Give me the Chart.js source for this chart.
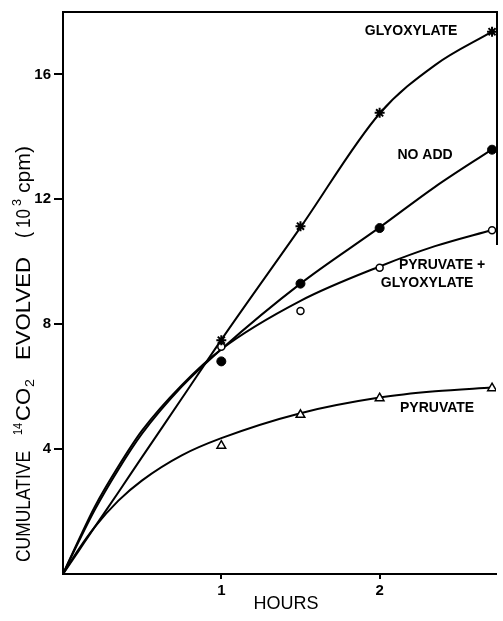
<!DOCTYPE html>
<html>
<head>
<meta charset="utf-8">
<script src="https://cdn.jsdelivr.net/npm/chart.js@4/dist/chart.umd.min.js"></script>
<style>
html,body{margin:0;padding:0;background:#fff;}
#wrap{width:503px;height:621px;position:relative;}
</style>
</head>
<body>
<div id="wrap"><canvas id="c" width="503" height="621"></canvas></div>
<script>
// ---- data ----
const xTicks = [1, 2];
const yTicks = [4, 8, 12, 16];

// measured points (hours, 10^3 cpm)
const pointHours = [1, 1.5, 2, 2.71];
const glyoxylatePts = [7.49, 11.14, 14.77, 17.37];
const noAddPts = [6.81, 9.30, 11.08, 13.59];
const pyrGlyPts = [7.28, 8.42, 9.81, 11.01];
const pyruvatePts = [4.11, 5.10, 5.63, 5.95];

// smooth fitted curves drawn through the figure
const curveHours = [0, 0.1, 0.2, 0.35, 0.5, 0.75, 1, 1.5, 2, 2.35, 2.71];
const glyoxylateCurve = [0, 0.75, 1.5, 2.62, 3.75, 5.62, 7.5, 11.1, 14.75, 16.3, 17.37];
const noAddCurve = [0, 1.05, 2.05, 3.35, 4.5, 6.0, 7.2, 9.3, 11.1, 12.4, 13.6];
const pyrGlyCurve = [0, 1.1, 2.15, 3.45, 4.6, 6.05, 7.2, 8.75, 9.85, 10.5, 11.02];
const pyruvateCurve = [0, 0.8, 1.5, 2.35, 3.0, 3.8, 4.35, 5.15, 5.65, 5.85, 5.97];

// curve labels: [text, hours, value]
const seriesLabels = [
  ['GLYOXYLATE', 2.199, 17.40],
  ['NO ADD', 2.287, 13.40],
  ['PYRUVATE +', 2.394, 9.89],
  ['GLYOXYLATE', 2.300, 9.31],
  ['PYRUVATE', 2.363, 5.32]
];

const xTitle = 'HOURS';

const toXY = (xs, ys) => xs.map((x, i) => ({x: x, y: ys[i]}));
const FONT = '"Liberation Sans", Arial, Helvetica, sans-serif';

function curveDS(ys) {
  return {type: 'line', data: toXY(curveHours, ys), borderColor: '#000', borderWidth: 2,
    pointRadius: 0, cubicInterpolationMode: 'monotone', fill: false, order: 2};
}
function pointDS(ys, style, radius, bg, bw) {
  return {type: 'scatter', data: toXY(pointHours, ys), showLine: false, pointStyle: style,
    pointRadius: radius, pointBackgroundColor: bg, pointBorderColor: '#000',
    pointBorderWidth: bw, order: 1};
}

const decor = {
  id: 'decor',
  afterDraw(chart) {
    const ctx = chart.ctx;
    const a = chart.chartArea;
    const xs = chart.scales.x, ys = chart.scales.y;
    ctx.save();
    ctx.strokeStyle = '#000';
    ctx.lineWidth = 2;
    // top frame and partial right frame
    ctx.beginPath();
    ctx.moveTo(a.left - 1, a.top);
    ctx.lineTo(a.right + 1, a.top);
    ctx.lineTo(a.right + 1, 245);
    ctx.stroke();

    // series labels
    ctx.fillStyle = '#000';
    ctx.font = 'bold 14px ' + FONT;
    ctx.textAlign = 'center';
    ctx.textBaseline = 'middle';
    seriesLabels.forEach(l => {
      ctx.fillText(l[0], xs.getPixelForValue(l[1]), ys.getPixelForValue(l[2]));
    });

    // x title
    ctx.font = '18px ' + FONT;
    ctx.fillText(xTitle, 286, 604);

    // y title (rotated, with super/subscripts)
    ctx.translate(29.5, 0);
    ctx.rotate(-Math.PI / 2);
    ctx.textAlign = 'left';
    ctx.textBaseline = 'alphabetic';
    function fit(text, yStart, yEnd, v, size) {
      ctx.font = size + 'px ' + FONT;
      const w = ctx.measureText(text).width;
      ctx.save();
      ctx.translate(-yStart, v);
      ctx.scale((yStart - yEnd) / w, 1);
      ctx.fillText(text, 0, 0);
      ctx.restore();
    }
    fit('CUMULATIVE', 562, 451, 0, 20);
    fit('14', 435, 423, -8, 13);
    fit('CO', 421, 388, 0, 20);
    fit('2', 387, 379, 4, 13);
    fit('EVOLVED', 360, 257, 0, 20);
    fit('(', 238, 232, 0, 20);
    fit('10', 228, 209, 0, 20);
    fit('3', 206, 199, -9, 13);
    fit('cpm)', 193, 146, 0, 20);
    ctx.restore();
  }
};

new Chart(document.getElementById('c'), {
  data: {
    datasets: [
      curveDS(glyoxylateCurve),
      curveDS(noAddCurve),
      curveDS(pyrGlyCurve),
      curveDS(pyruvateCurve),
      pointDS(glyoxylatePts, 'star', 5, '#000', 2),
      pointDS(noAddPts, 'circle', 4.5, '#000', 1),
      pointDS(pyrGlyPts, 'circle', 3.5, '#fff', 1.5),
      pointDS(pyruvatePts, 'triangle', 5, '#fff', 1.5)
    ]
  },
  options: {
    responsive: false,
    animation: false,
    devicePixelRatio: 1,
    layout: {padding: {top: 10, right: 6, left: 0, bottom: 0}},
    plugins: {legend: {display: false}, tooltip: {enabled: false}},
    scales: {
      x: {
        type: 'linear', min: 0, max: 2.735,
        afterBuildTicks: s => { s.ticks = xTicks.map(v => ({value: v})); },
        afterFit: s => { s.height = 47; },
        border: {display: true, color: '#000', width: 2},
        grid: {display: true, drawOnChartArea: false, drawTicks: true, tickLength: 5, color: '#000', lineWidth: 2},
        ticks: {color: '#000', padding: 3, font: {family: FONT, size: 15, weight: 'bold'}, maxRotation: 0,
          callback: v => String(v)}
      },
      y: {
        type: 'linear', min: 0, max: 18,
        afterBuildTicks: s => { s.ticks = yTicks.map(v => ({value: v})); },
        afterFit: s => { s.width = 63; },
        border: {display: true, color: '#000', width: 2},
        grid: {display: true, drawOnChartArea: false, drawTicks: true, tickLength: 9, color: '#000', lineWidth: 2},
        ticks: {color: '#000', padding: 3, font: {family: FONT, size: 15, weight: 'bold'},
          callback: v => String(v)}
      }
    }
  },
  plugins: [decor]
});
</script>
</body>
</html>
